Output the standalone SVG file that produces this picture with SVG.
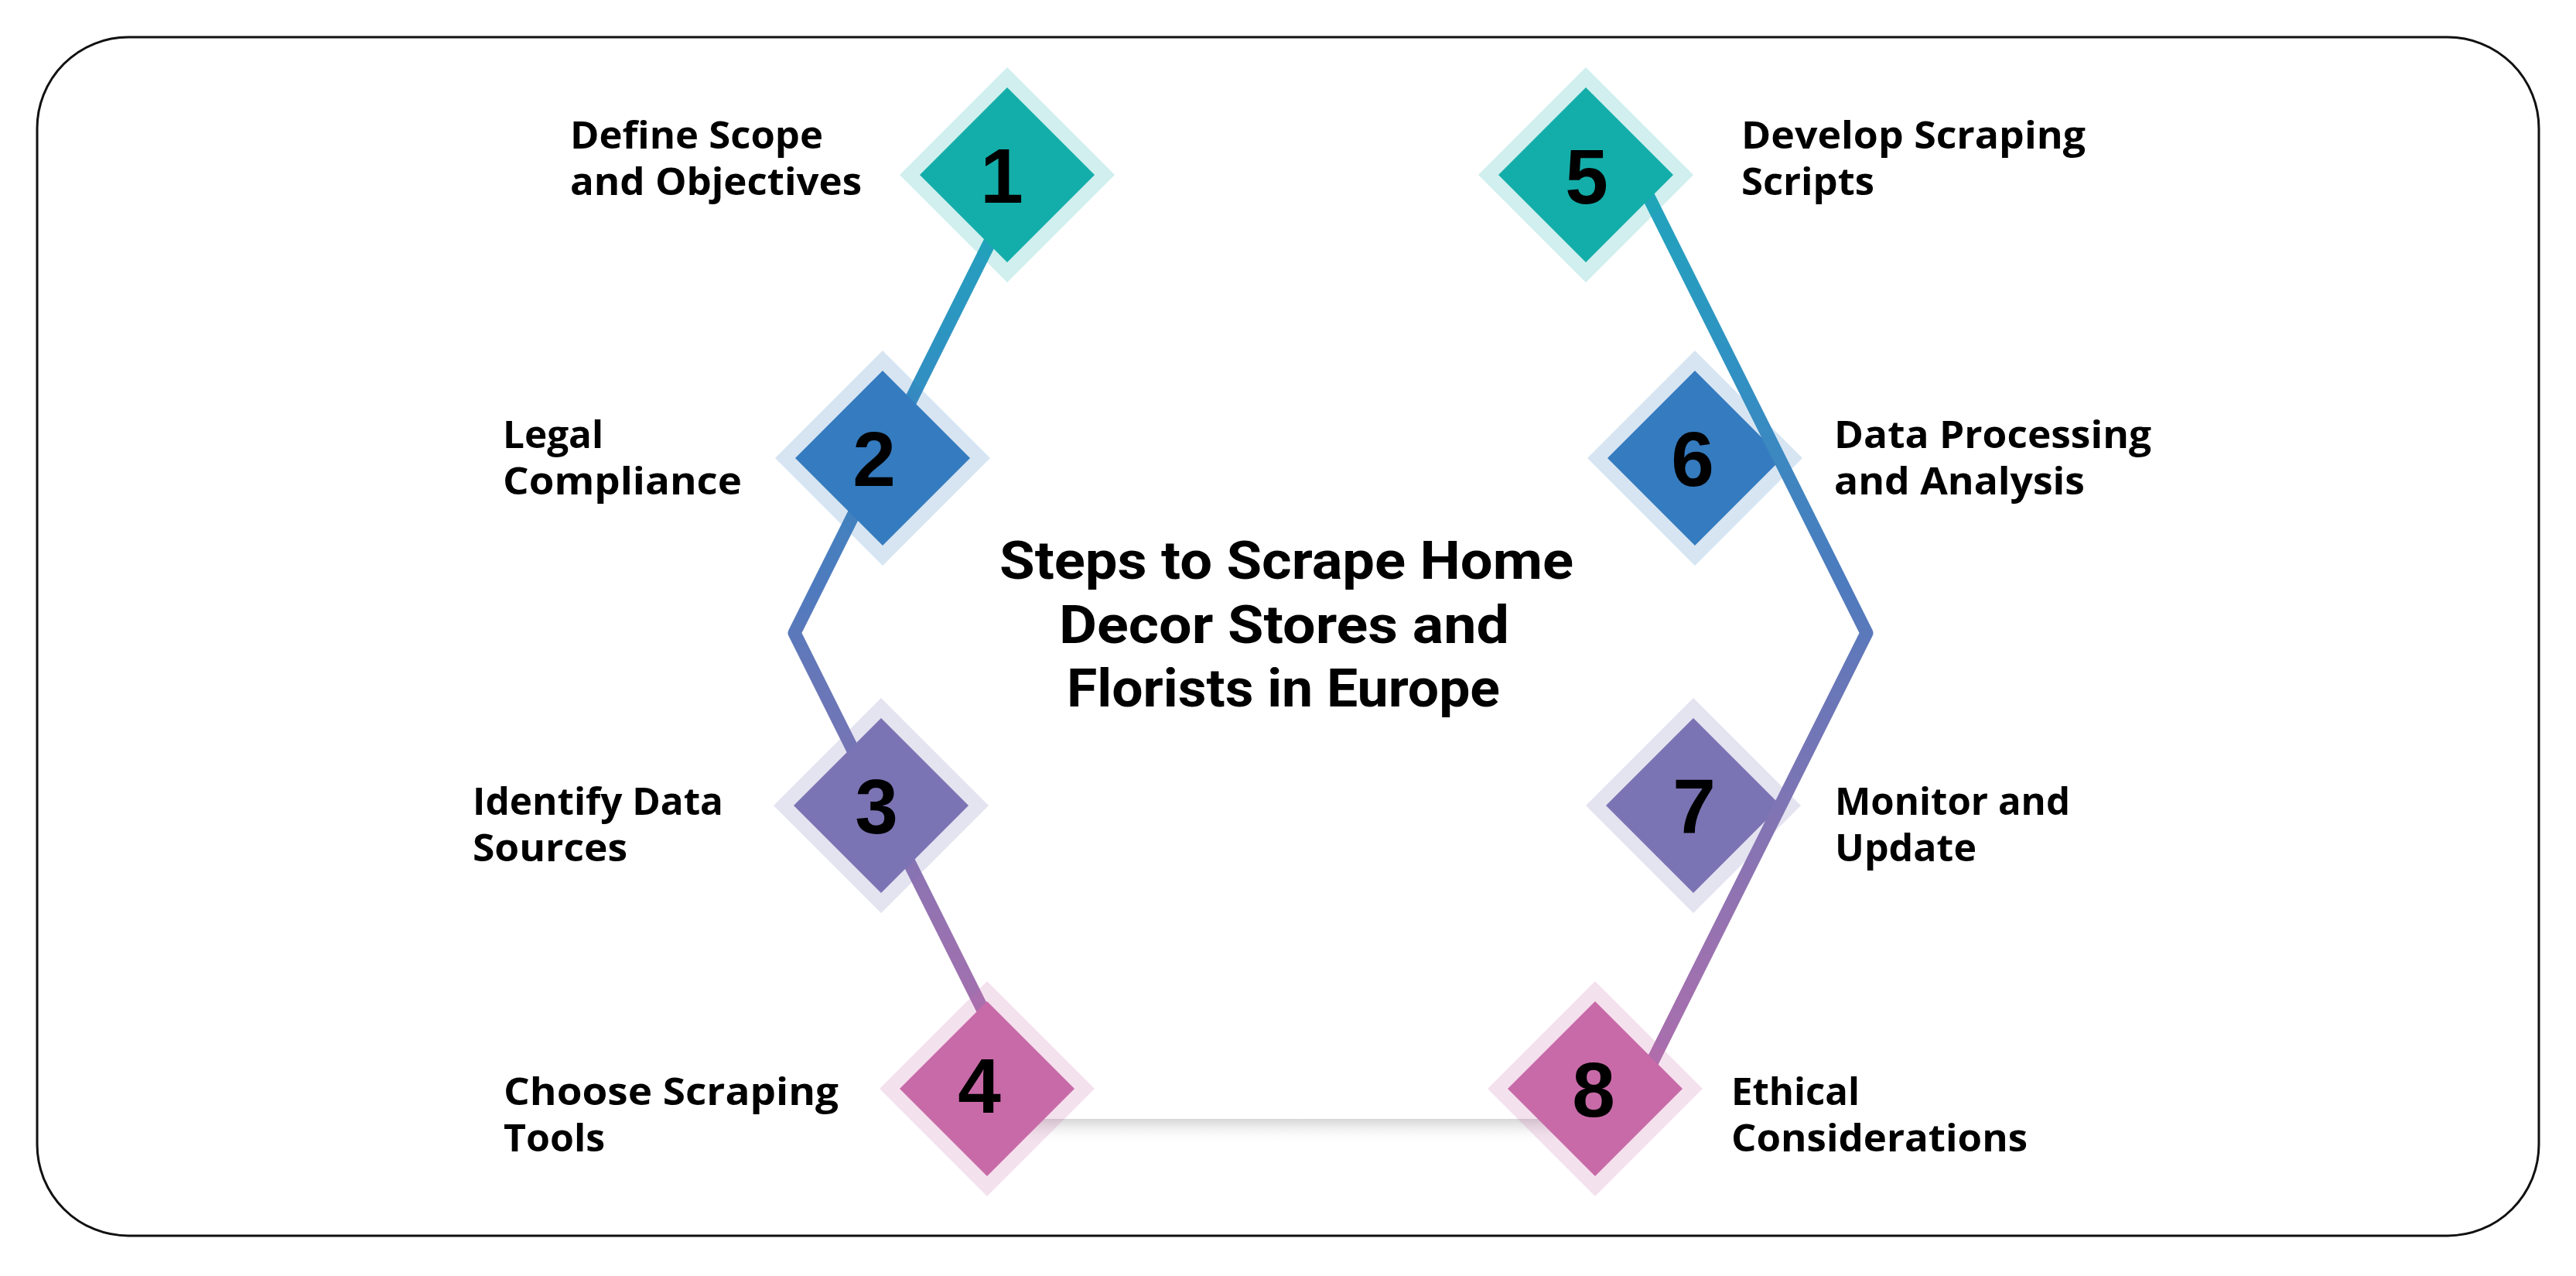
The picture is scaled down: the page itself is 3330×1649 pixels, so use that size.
<svg xmlns="http://www.w3.org/2000/svg" xmlns:xlink="http://www.w3.org/1999/xlink" width="3330" height="1649" viewBox="0 0 3330 1649">
<style>
  .lbl { font-family: "Open Sans", "Liberation Sans", sans-serif; font-weight: 700; font-size: 48px; fill: #000; }
  .title { font-family: Roboto, "Liberation Sans", sans-serif; font-weight: 700; font-size: 68px; fill: #000; text-anchor: middle; }
  .num { font-family: "Liberation Sans", Arial, sans-serif; font-weight: 700; font-size: 100px; fill: #000; text-anchor: middle; }
  .teal { fill: #14aeaa; }
  .blue { fill: #357bbf; }
  .purple { fill: #7a74b4; }
  .pink { fill: #c86aa8; }
  .halo { fill-opacity: 0.2; }
  .conn { fill: none; stroke: url(#lineGrad); stroke-width: 17; stroke-linejoin: round; }
</style>
<defs>
  <path id="haloShape" d="M0,-139 L139,0 L0,139 L-139,0 Z"/>
  <path id="innerShape" d="M0,-113 L113,0 L0,113 L-113,0 Z"/>
  <linearGradient id="lineGrad" gradientUnits="userSpaceOnUse" x1="0" y1="226" x2="0" y2="1400">
    <stop offset="0" stop-color="#20a6bc"/>
    <stop offset="0.2" stop-color="#2f92c2"/>
    <stop offset="0.45" stop-color="#4d7bbe"/>
    <stop offset="0.55" stop-color="#6677b8"/>
    <stop offset="0.85" stop-color="#9a72b0"/>
    <stop offset="1" stop-color="#ad6dac"/>
  </linearGradient>
  <linearGradient id="shadowGrad" x1="0" y1="0" x2="0" y2="1">
    <stop offset="0" stop-color="#d6d6d6" stop-opacity="1"/>
    <stop offset="1" stop-color="#ffffff" stop-opacity="0"/>
  </linearGradient>
</defs>

<rect x="0" y="0" width="3330" height="1649" fill="#ffffff"/>
<rect id="frame" x="48" y="48" width="3234" height="1549" rx="118" ry="118" fill="#ffffff" stroke="#111111" stroke-width="3"/>

<g id="node-6">
  <use xlink:href="#haloShape" x="2191" y="592" class="blue halo"/>
  <use xlink:href="#innerShape" x="2191" y="592" class="blue"/>
  <text class="num" x="2188" y="628">6</text>
  <text class="lbl" x="2371" y="579" textLength="410" lengthAdjust="spacingAndGlyphs">Data Processing</text>
  <text class="lbl" x="2371" y="639" textLength="324" lengthAdjust="spacingAndGlyphs">and Analysis</text>
</g>
<g id="node-7">
  <use xlink:href="#haloShape" x="2189" y="1041" class="purple halo"/>
  <use xlink:href="#innerShape" x="2189" y="1041" class="purple"/>
  <text class="num" x="2190" y="1077">7</text>
  <text class="lbl" x="2372" y="1053" textLength="304" lengthAdjust="spacingAndGlyphs">Monitor and</text>
  <text class="lbl" x="2372" y="1113" textLength="183" lengthAdjust="spacingAndGlyphs">Update</text>
</g>

<g id="connectors">
  <rect x="1330" y="1446" width="680" height="32" fill="url(#shadowGrad)"/>
  <path class="conn" d="M1317,238 L1027,818 L1273,1310"/>
  <path class="conn" d="M2117,226 L2413,818 L2125,1394"/>
</g>

<g id="node-1">
  <use xlink:href="#haloShape" x="1302" y="226" class="teal halo"/>
  <use xlink:href="#innerShape" x="1302" y="226" class="teal"/>
  <text class="num" x="1295" y="262">1</text>
  <text class="lbl" x="737" y="192" textLength="327" lengthAdjust="spacingAndGlyphs">Define Scope</text>
  <text class="lbl" x="737" y="252" textLength="377" lengthAdjust="spacingAndGlyphs">and Objectives</text>
</g>
<g id="node-2">
  <use xlink:href="#haloShape" x="1141" y="592" class="blue halo"/>
  <use xlink:href="#innerShape" x="1141" y="592" class="blue"/>
  <text class="num" x="1130" y="628">2</text>
  <text class="lbl" x="650" y="579" textLength="130" lengthAdjust="spacingAndGlyphs">Legal</text>
  <text class="lbl" x="650" y="639" textLength="309" lengthAdjust="spacingAndGlyphs">Compliance</text>
</g>
<g id="node-3">
  <use xlink:href="#haloShape" x="1139" y="1041" class="purple halo"/>
  <use xlink:href="#innerShape" x="1139" y="1041" class="purple"/>
  <text class="num" x="1133" y="1077">3</text>
  <text class="lbl" x="611" y="1053" textLength="324" lengthAdjust="spacingAndGlyphs">Identify Data</text>
  <text class="lbl" x="611" y="1113" textLength="200" lengthAdjust="spacingAndGlyphs">Sources</text>
</g>
<g id="node-4">
  <use xlink:href="#haloShape" x="1276" y="1407" class="pink halo"/>
  <use xlink:href="#innerShape" x="1276" y="1407" class="pink"/>
  <text class="num" x="1266" y="1438">4</text>
  <text class="lbl" x="651" y="1428" textLength="433" lengthAdjust="spacingAndGlyphs">Choose Scraping</text>
  <text class="lbl" x="651" y="1488" textLength="131" lengthAdjust="spacingAndGlyphs">Tools</text>
</g>
<g id="node-5">
  <use xlink:href="#haloShape" x="2050" y="226" class="teal halo"/>
  <use xlink:href="#innerShape" x="2050" y="226" class="teal"/>
  <text class="num" x="2051" y="263">5</text>
  <text class="lbl" x="2251" y="192" textLength="445" lengthAdjust="spacingAndGlyphs">Develop Scraping</text>
  <text class="lbl" x="2251" y="252" textLength="172" lengthAdjust="spacingAndGlyphs">Scripts</text>
</g>
<g id="node-8">
  <use xlink:href="#haloShape" x="2062" y="1407" class="pink halo"/>
  <use xlink:href="#innerShape" x="2062" y="1407" class="pink"/>
  <text class="num" x="2060" y="1443">8</text>
  <text class="lbl" x="2238" y="1428" textLength="166" lengthAdjust="spacingAndGlyphs">Ethical</text>
  <text class="lbl" x="2238" y="1488" textLength="383" lengthAdjust="spacingAndGlyphs">Considerations</text>
</g>

<g id="title">
  <text class="title" x="1663" y="748" textLength="742" lengthAdjust="spacingAndGlyphs">Steps to Scrape Home</text>
  <text class="title" x="1660" y="831" textLength="582" lengthAdjust="spacingAndGlyphs">Decor Stores and</text>
  <text class="title" x="1659" y="913" textLength="560" lengthAdjust="spacingAndGlyphs">Florists in Europe</text>
</g>
</svg>
